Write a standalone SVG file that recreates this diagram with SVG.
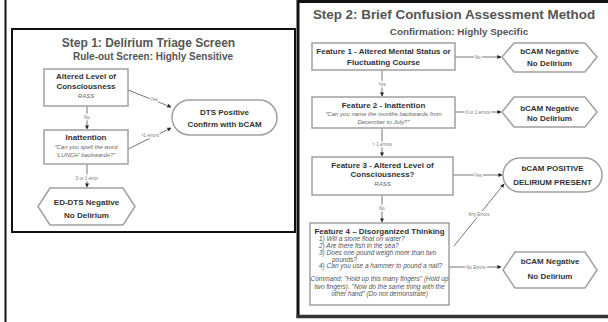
<svg xmlns="http://www.w3.org/2000/svg" width="608" height="322" viewBox="0 0 608 322">
<style>
text{font-family:"Liberation Sans",Arial,sans-serif;}
.t{font-weight:bold;fill:#555;text-anchor:middle;}
.n{font-weight:bold;fill:#333;text-anchor:middle;font-size:8px;}
.s{fill:#666;text-anchor:middle;font-size:6px;font-style:italic;}
.q{fill:#555;font-size:6.5px;font-style:italic;}
.box{fill:#fff;stroke:#a0a0a0;stroke-width:1.5;}
.c{fill:none;stroke:#777;stroke-width:1;marker-end:url(#ah);}
.l{fill:#777;font-size:4.5px;text-anchor:middle;stroke:#fff;stroke-width:2.5;paint-order:stroke;}
</style>
<defs>
<marker id="ah" viewBox="0 0 10 10" refX="9" refY="5" markerWidth="4" markerHeight="4" orient="auto">
<path d="M0,0 L10,5 L0,10 z" fill="#222"/>
</marker>
</defs>
<rect width="608" height="322" fill="#fff"/>
<!-- frames -->
<g id="frames" fill="none">
<line x1="5.5" y1="0" x2="5.5" y2="322" stroke="#111" stroke-width="2"/>
<rect x="12" y="29" width="283" height="203" stroke="#111" stroke-width="2"/>
<polyline points="298,318 298,1.5 608,1.5" stroke="#111" stroke-width="3"/>
<line x1="296.5" y1="316.5" x2="608" y2="316.5" stroke="#333" stroke-width="3.5"/>
</g>
<!-- titles -->
<text class="t" x="148.5" y="47" font-size="12">Step 1: Delirium Triage Screen</text>
<text class="t" x="153" y="60" font-size="10">Rule-out Screen: Highly Sensitive</text>
<text class="t" x="454" y="19" font-size="13.4">Step 2: Brief Confusion Assessment Method</text>
<text class="t" x="459" y="35" font-size="9.9">Confirmation: Highly Specific</text>

<!-- connectors -->
<g id="connectors">
<path class="c" d="M87,106 L87,129"/>
<path class="c" d="M87,164 L87,187"/>
<path class="c" d="M128,90 L171,107"/>
<path class="c" d="M128,149 L171,128"/>
<path class="c" d="M455,57 L501,57"/>
<path class="c" d="M382,70 L382,96"/>
<path class="c" d="M455,112 L501,112"/>
<path class="c" d="M382,128 L382,156"/>
<path class="c" d="M453,175 L502,175"/>
<path class="c" d="M382,195 L382,222"/>
<path class="c" d="M454,246 L504,184"/>
<path class="c" d="M449,267 L501,267"/>
<text class="l" x="87" y="119">No</text>
<text class="l" x="87" y="180">0 or 1 error</text>
<text class="l" x="154" y="101">Yes</text>
<text class="l" x="150" y="137">&gt;1 errors</text>
<text class="l" x="478" y="58.5">No</text>
<text class="l" x="382" y="86">Yes</text>
<text class="l" x="478" y="113.5">0 or 1 errors</text>
<text class="l" x="382" y="146">&gt; 1 errors</text>
<text class="l" x="478" y="176.5">Yes</text>
<text class="l" x="382" y="210">No</text>
<text class="l" x="479" y="216">Any Errors</text>
<text class="l" x="476" y="268.5">No Errors</text>
</g>

<!-- step 1 nodes -->
<g id="s1-loc">
<rect class="box" x="44" y="69" width="84" height="37"/>
<text class="n" x="86" y="79">Altered Level of</text>
<text class="n" x="86" y="89">Consciousness</text>
<text class="s" x="86" y="98">RASS</text>
</g>
<g id="s1-inatt">
<rect class="box" x="44" y="130" width="84" height="34"/>
<text class="n" x="86" y="140">Inattention</text>
<text class="s" x="86" y="149">"Can you spell the word</text>
<text class="s" x="86" y="157">'LUNCH' backwards?"</text>
</g>
<g id="s1-neg">
<polygon class="box" points="50,188 123,188 135,206.5 123,225 50,225 38,206.5"/>
<text class="n" x="86.5" y="205">ED-DTS Negative</text>
<text class="n" x="86.5" y="218">No Delirium</text>
</g>
<g id="s1-pos">
<rect class="box" x="172" y="100" width="105" height="35" rx="17.5"/>
<text class="n" x="224.5" y="115">DTS Positive</text>
<text class="n" x="224.5" y="127">Confirm with bCAM</text>
</g>

<!-- step 2 nodes -->
<g id="f1">
<rect class="box" x="312" y="43" width="143" height="27"/>
<text class="n" x="383.5" y="54">Feature 1 - Altered Mental Status or</text>
<text class="n" x="383.5" y="65">Fluctuating Course</text>
</g>
<g id="neg1">
<polygon class="box" points="514,43 585,43 597,57 585,72 514,72 502,57"/>
<text class="n" x="549.5" y="54">bCAM Negative</text>
<text class="n" x="549.5" y="66">No Delirium</text>
</g>
<g id="f2">
<rect class="box" x="312" y="97" width="143" height="31"/>
<text class="n" x="383.5" y="108">Feature 2 - Inattention</text>
<text class="s" x="383.5" y="116">"Can you name the months backwards from</text>
<text class="s" x="383.5" y="124">December to July?"</text>
</g>
<g id="neg2">
<polygon class="box" points="514,97 585,97 597,112 585,127 514,127 502,112"/>
<text class="n" x="549.5" y="111">bCAM Negative</text>
<text class="n" x="549.5" y="121">No Delirium</text>
</g>
<g id="f3">
<rect class="box" x="312" y="157" width="141" height="38"/>
<text class="n" x="382.5" y="168">Feature 3 - Altered Level of</text>
<text class="n" x="382.5" y="177">Consciousness?</text>
<text class="s" x="382.5" y="186">RASS</text>
</g>
<g id="pos">
<rect class="box" x="503" y="158" width="99" height="34" rx="17"/>
<text class="n" x="552.5" y="171">bCAM POSITIVE</text>
<text class="n" x="552.5" y="185" font-size="7.5">DELIRIUM PRESENT</text>
</g>
<g id="f4">
<rect class="box" x="310" y="223" width="139" height="82"/>
<text class="n" x="379.5" y="234" font-size="8.5">Feature 4 – Disorganized Thinking</text>
<text class="q" x="319" y="241">1) Will a stone float on water?</text>
<text class="q" x="319" y="248">2) Are there fish in the sea?</text>
<text class="q" x="319" y="255">3) Does one pound weigh more than two</text>
<text class="q" x="332" y="261.5">pounds?</text>
<text class="q" x="319" y="268">4) Can you use a hammer to pound a nail?</text>
<text class="q" x="379.5" y="281" text-anchor="middle">Command: "Hold up this many fingers" (Hold up</text>
<text class="q" x="379.5" y="288.5" text-anchor="middle">two fingers).  "Now do the same thing with the</text>
<text class="q" x="379.5" y="296" text-anchor="middle">other hand" (Do not demonstrate)</text>
</g>
<g id="neg3">
<polygon class="box" points="515,252 585,252 597,270 585,288 515,288 503,270"/>
<text class="n" x="550" y="264">bCAM Negative</text>
<text class="n" x="550" y="279">No Delirium</text>
</g>
</svg>
